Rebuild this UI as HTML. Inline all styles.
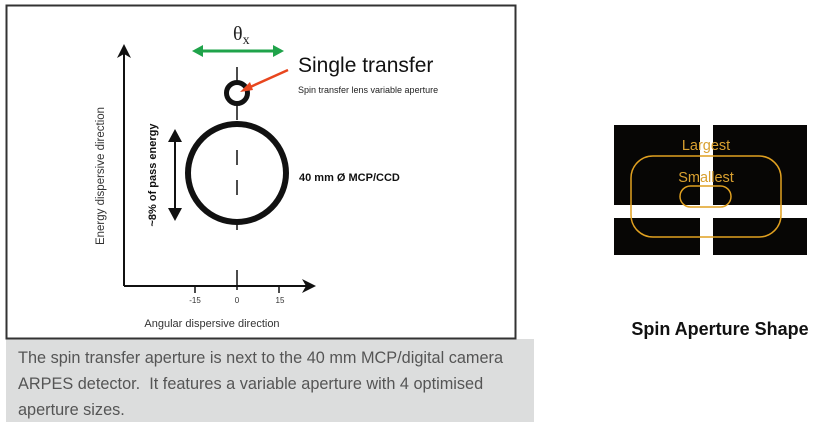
<!DOCTYPE html>
<html><head><style>
html,body{margin:0;padding:0;background:#fff;width:821px;height:422px;overflow:hidden;font-family:"Liberation Sans",sans-serif;}
.cap{position:absolute;left:6px;top:339px;width:528px;height:83px;background:#dcdddd;}
.cap p{margin:0;position:absolute;left:12px;top:6px;font-size:16.3px;line-height:26px;color:#555;}
</style></head><body>
<div class="cap"><p>The spin transfer aperture is next to the 40 mm MCP/digital camera<br>ARPES detector.&nbsp; It features a variable aperture with 4 optimised<br>aperture sizes.</p></div>
<svg width="821" height="422" style="position:absolute;left:0;top:0" font-family="Liberation Sans, sans-serif">
<rect x="6.5" y="5.5" width="509" height="333" fill="#fff" stroke="#333" stroke-width="2"/>
<line x1="124" y1="286" x2="124" y2="52" stroke="#111" stroke-width="2"/>
<polygon points="124,44 117,58 124,54 131,58" fill="#111"/>
<line x1="124" y1="286" x2="308" y2="286" stroke="#111" stroke-width="2"/>
<polygon points="316,286 302,279 306,286 302,293" fill="#111"/>
<line x1="195" y1="286" x2="195" y2="293" stroke="#111" stroke-width="1.5"/>
<line x1="279" y1="286" x2="279" y2="293" stroke="#111" stroke-width="1.5"/>
<line x1="237" y1="270" x2="237" y2="290" stroke="#111" stroke-width="1.5"/>
<text x="195" y="303" font-size="8" text-anchor="middle" fill="#333">-15</text>
<text x="237" y="303" font-size="8" text-anchor="middle" fill="#333">0</text>
<text x="280" y="303" font-size="8" text-anchor="middle" fill="#333">15</text>
<text x="212" y="327" font-size="11" text-anchor="middle" fill="#333">Angular dispersive direction</text>
<text transform="translate(104,176) rotate(-90)" font-size="11.5" text-anchor="middle" fill="#333">Energy dispersive direction</text>
<line x1="237" y1="67" x2="237" y2="120" stroke="#111" stroke-width="1.5"/>
<line x1="237" y1="150" x2="237" y2="165" stroke="#111" stroke-width="1.5"/>
<line x1="237" y1="180" x2="237" y2="195" stroke="#111" stroke-width="1.5"/>
<line x1="237" y1="220" x2="237" y2="230" stroke="#111" stroke-width="1.5"/>
<circle cx="237" cy="93" r="10.5" fill="#fff" stroke="#111" stroke-width="5"/>
<circle cx="237" cy="173" r="49" fill="none" stroke="#111" stroke-width="6"/>
<line x1="288" y1="70" x2="248" y2="88" stroke="#e8461e" stroke-width="2.5"/>
<polygon points="240,92 250,82 253,90" fill="#e8461e"/>
<line x1="200" y1="51" x2="276" y2="51" stroke="#1fa34a" stroke-width="3"/>
<polygon points="192,51 203,45 203,57" fill="#1fa34a"/>
<polygon points="284,51 273,45 273,57" fill="#1fa34a"/>
<text x="233" y="40" font-size="20" fill="#222" font-family="Liberation Serif, serif">θ<tspan font-size="14" dy="4">x</tspan></text>
<text x="298" y="72" font-size="21" fill="#111">Single transfer</text>
<text x="298" y="93" font-size="9" fill="#222">Spin transfer lens variable aperture</text>
<text x="299" y="181" font-size="11" font-weight="bold" fill="#111">40 mm Ø MCP/CCD</text>
<line x1="175" y1="138" x2="175" y2="212" stroke="#111" stroke-width="2"/>
<polygon points="175,129 168,142 182,142" fill="#111"/>
<polygon points="175,221 168,208 182,208" fill="#111"/>
<text transform="translate(156,175) rotate(-90)" font-size="11" font-weight="bold" text-anchor="middle" fill="#111">~8% of pass energy</text>
<rect x="614" y="125" width="193" height="130" fill="#070605"/>
<rect x="700" y="125" width="13" height="130" fill="#fff"/>
<rect x="614" y="205" width="193" height="13" fill="#fff"/>
<rect x="631" y="156" width="150" height="81" rx="22" fill="none" stroke="#e0a020" stroke-width="1.5"/>
<rect x="680" y="186" width="51" height="21" rx="10.5" fill="none" stroke="#e0a020" stroke-width="1.5"/>
<text x="706" y="150" font-size="14.5" text-anchor="middle" fill="#d9a030">Largest</text>
<text x="706" y="182" font-size="14.5" text-anchor="middle" fill="#d9a030">Smallest</text>
<text x="720" y="335" font-size="18" font-weight="bold" text-anchor="middle" fill="#111">Spin Aperture Shape</text>
</svg>
</body></html>
